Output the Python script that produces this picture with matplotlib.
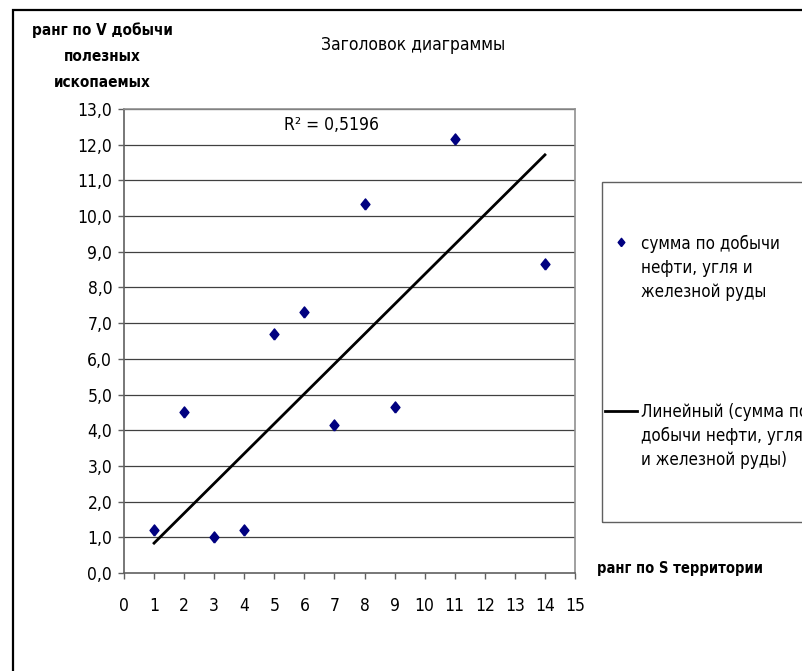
import numpy as np
import matplotlib.pyplot as plt
from matplotlib.patches import Rectangle
from matplotlib.lines import Line2D

plt.rcParams['font.family'] = ['DejaVu Sans']
plt.rcParams['font.stretch'] = 'condensed'

# ранг по S территории / ранг по V добычи
rank_s = [1, 2, 3, 4, 5, 6, 7, 8, 9, 11, 14]
rank_v = [1.2, 4.5, 1.0, 1.2, 6.7, 7.3, 4.15, 10.35, 4.65, 12.15, 8.65]
r2_label = "0,5196"
x_ticks = list(range(0, 16))
y_ticks = list(range(0, 14))

W, H = 802, 671
fig = plt.figure(figsize=(W / 100, H / 100), dpi=100)

# tall diamond, like the spreadsheet marker
diamond = [(0, -1), (0.8, 0), (0, 1), (-0.8, 0), (0, -1)]

# chart area frame (runs off the right and bottom edges)
fig.patches.append(Rectangle((13 / W, -0.05), 1.0, 1 - 10 / H + 0.05,
                             transform=fig.transFigure, fill=False,
                             edgecolor='black', lw=1.6))

ax = fig.add_axes([124 / W, 1 - 573 / H, (575 - 124) / W, (573 - 109) / H])
ax.set_xlim(0, 15)
ax.set_ylim(0, 13)

for v in y_ticks[1:]:
    ax.axhline(v, color='#404040', lw=0.9, zorder=1)

x = np.array(rank_s, dtype=float)
y = np.array(rank_v, dtype=float)
ax.plot(x, y, linestyle='none', marker=diamond, markersize=8,
        color='#000080', zorder=3)

# linear trend through the origin
slope = np.sum(x * y) / np.sum(x * x)
xt = np.array([x.min(), x.max()])
ax.plot(xt, slope * xt, color='black', lw=2.0, zorder=2)

ax.text(6.9, 12.55, "R² = " + r2_label, fontsize=12.5, ha='center', va='center')

ax.set_xticks(x_ticks)
ax.set_xticklabels([str(t) for t in x_ticks], fontsize=12.5)
ax.set_yticks(y_ticks)
ax.set_yticklabels([f"{t},0" for t in y_ticks], fontsize=12.5)
ax.tick_params(axis='both', direction='out', color='#606060', width=1)
ax.tick_params(axis='x', length=4, pad=13)
ax.tick_params(axis='y', length=4.5, pad=4)

for s in ['left', 'bottom']:
    ax.spines[s].set_color('#606060')
    ax.spines[s].set_linewidth(1.2)
for s in ['right', 'top']:
    ax.spines[s].set_color('#909090')
    ax.spines[s].set_linewidth(1.2)

fig.text(413 / W, 1 - 45 / H, "Заголовок диаграммы", fontsize=12.5,
         ha='center', va='center')
fig.text(102 / W, 1 - 56 / H, "ранг по V добычи\nполезных\nископаемых",
         fontsize=11, fontweight='bold', ha='center', va='center',
         linespacing=1.9)
fig.text(597 / W, 1 - 568 / H, "ранг по S территории", fontsize=10.5,
         fontweight='bold', ha='left', va='center')

# legend box
fig.patches.append(Rectangle((602 / W, 1 - 522 / H), 1.0, (522 - 182) / H,
                             transform=fig.transFigure, fill=False,
                             edgecolor='#606060', lw=1.0))
fig.lines.append(Line2D([621 / W], [1 - 242 / H], transform=fig.transFigure,
                        marker=diamond, markersize=6, color='#000080',
                        linestyle='none'))
fig.text(641 / W, 1 - 268 / H, "сумма по добычи\nнефти, угля и\nжелезной руды",
         fontsize=12.2, ha='left', va='center', linespacing=1.45)
fig.lines.append(Line2D([605 / W, 637 / W], [1 - 411 / H, 1 - 411 / H],
                        transform=fig.transFigure, color='black', lw=2.0))
fig.text(641 / W, 1 - 436 / H,
         "Линейный (сумма по\nдобычи нефти, угля\nи железной руды)",
         fontsize=12.2, ha='left', va='center', linespacing=1.45)

fig.savefig('out.png', dpi=100)
